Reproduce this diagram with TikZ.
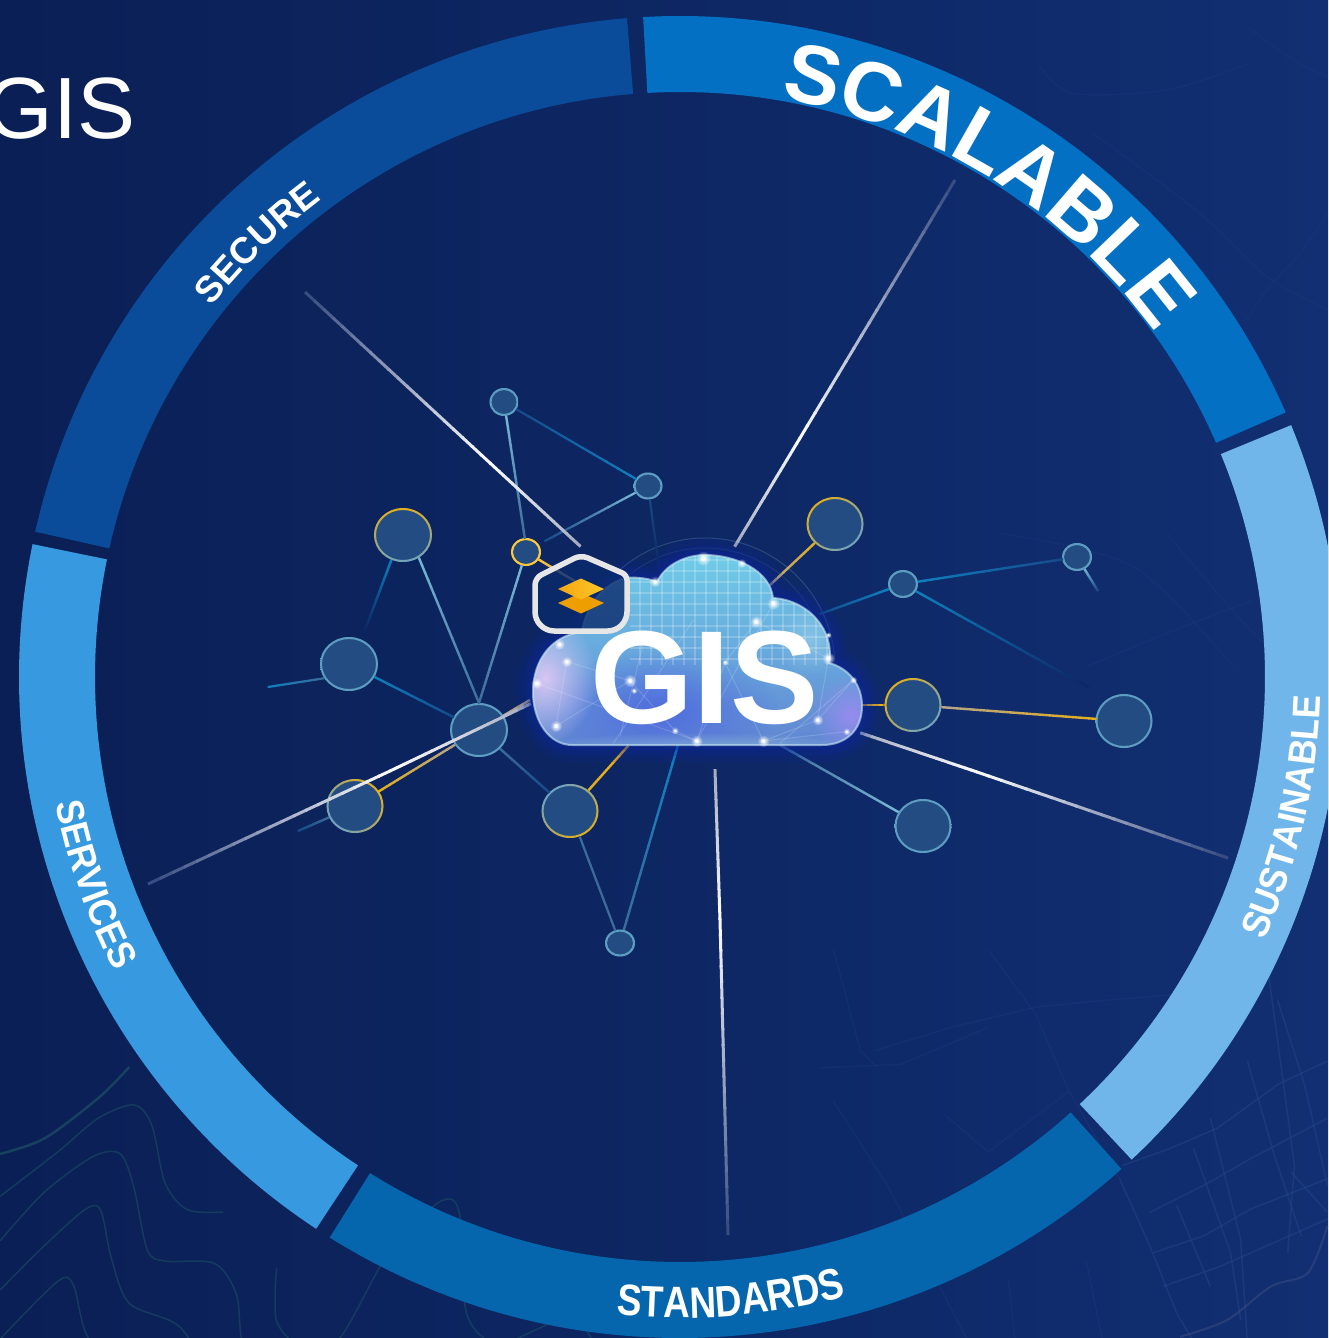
\documentclass[tikz,border=0pt]{standalone}
\usepackage{fontspec}
\usetikzlibrary{shapes.geometric,calc,decorations.text,fadings}
\setmainfont{Liberation Sans}
\newfontfamily\condA[FakeStretch=0.84]{Liberation Sans}
\newfontfamily\condB[FakeStretch=0.92]{Liberation Sans}
\def\fSCA{\bfseries\fontsize{47.5}{52}\selectfont}
\def\fSEC{\bfseries\fontsize{21}{25}\selectfont}
\def\fSER{\condB\bfseries\fontsize{22}{26}\selectfont}
\def\fSTA{\condA\bfseries\fontsize{25}{29}\selectfont}
\def\fSUS{\condB\bfseries\fontsize{22}{26}\selectfont}
\definecolor{bgL}{HTML}{0A1F55}
\definecolor{bgR}{HTML}{112F72}
\definecolor{bgc}{HTML}{0D2663}
\definecolor{secC}{HTML}{0A4C9A}
\definecolor{scaC}{HTML}{0470C4}
\definecolor{susC}{HTML}{70B6EA}
\definecolor{staC}{HTML}{0566AE}
\definecolor{serC}{HTML}{379AE0}
\definecolor{gold}{HTML}{E4AE1C}
\definecolor{yel}{HTML}{FFC83A}
\definecolor{tan}{HTML}{B5A58A}
\definecolor{gblue}{HTML}{6FA3C0}
\definecolor{nblue}{HTML}{5E9DC2}
\definecolor{lblue}{HTML}{78B8D6}
\definecolor{mblue}{HTML}{3C6C9A}
\definecolor{cyanb}{HTML}{0E80C0}
\definecolor{deep}{HTML}{164A88}
\definecolor{faint}{HTML}{34487E}
\definecolor{grayl}{HTML}{A4ABC0}
\definecolor{nfill}{HTML}{234D82}
\definecolor{street}{HTML}{23448A}
\definecolor{contour}{HTML}{1A4A62}
\tikzfading[name=softc, inner color=transparent!0, outer color=transparent!100]
\tikzset{
  hubnode/.style={ellipse,fill=nfill,inner sep=0pt,outer sep=0pt},
  mapline/.style={street,line width=0.03cm,opacity=.55,line join=round},
  topo/.style={contour,line width=0.03cm,opacity=.65}
}
% gradient line between two named points
\newcommand\fline[5]{%
  \foreach \i in {0,...,19}{%
    \pgfmathsetmacro\mixv{100-(\i+0.5)*5}%
    \pgfmathsetmacro\ta{\i/20}%
    \pgfmathsetmacro\tb{(\i+1.12)/20}%
    \draw[line width=#5*0.02cm,color={#3!\mixv!#4}] ($(#1)!\ta!(#2)$) -- ($(#1)!\tb!(#2)$);%
  }}
% connector trimmed at the node borders
\newcommand\conn[5]{%
  \path (#1) -- (#2) coordinate[pos=0] (cs) coordinate[pos=1] (ce);%
  \fline{cs}{ce}{#3}{#4}{#5}}
% node with a shaded rim
\newcommand\nd[8]{%
  \node[hubnode,minimum width={#4*0.04cm},minimum height={#5*0.04cm}] (#1) at (#2,#3) {};%
  \shade[top color=#6,bottom color=#7,shading angle=#8,even odd rule]
    (#2,#3) ellipse[x radius=#4,y radius=#5] (#2,#3) ellipse[x radius=#4-2,y radius=#5-2];}
\def\cloudpath{(572,745) -- (822,745)
  .. controls (846,745) and (862,730) .. (862,706)
  .. controls (862,684) and (848,668) .. (829,663)
  .. controls (835,630) and (808,600) .. (773,598)
  .. controls (770,570) and (735,555) .. (705,555)
  .. controls (685,555) and (665,565) .. (657,582)
  .. controls (648,578) and (635,577) .. (625,578)
  .. controls (600,585) and (585,610) .. (582,632)
  .. controls (552,635) and (533,660) .. (533,692)
  .. controls (533,722) and (550,745) .. (572,745) -- cycle}
\begin{document}
\begin{tikzpicture}[x=0.02cm,y=-0.02cm]
\useasboundingbox (0,0) rectangle (1328,1338);
\clip (0,0) rectangle (1328,1338);
% background
\shade[left color=bgL,right color=bgR] (0,0) rectangle (1328,1338);
% contour lines, lower left
\begin{scope}[shift={(0,1000)},x=0.00893cm,y=-0.00893cm]
\draw[topo,line width=0.05cm,opacity=.8] plot[smooth] coordinates {(0,345)(100,310)(220,220)(290,150)};
\draw[topo] plot[smooth] coordinates {(0,440)(130,340)(220,265)(300,235)(340,280)(370,410)(420,470)(500,475)};
\draw[topo] plot[smooth] coordinates {(0,540)(100,430)(210,350)(270,345)(300,420)(330,560)(370,585)(480,590)(530,660)(550,790)(650,860)(760,830)(850,780)};
\draw[topo] plot[smooth] coordinates {(0,650)(100,550)(190,470)(225,470)(250,580)(290,680)(400,730)(480,840)(620,925)(720,910)(840,810)};
\draw[topo] plot[smooth] coordinates {(0,760)(130,630)(165,640)(200,760)(310,830)(420,890)(560,990)(720,990)(830,935)(880,980)};
\draw[topo,line width=0.05cm] plot[smooth] coordinates {(0,890)(80,835)(130,880)(200,945)(320,960)(420,1010)};
\draw[topo] plot[smooth] coordinates {(620,600)(620,720)(680,780)(760,760)(880,550)(990,450)(1030,480)(1045,700)(1110,770)(1210,735)(1280,700)(1320,750)(1340,790)};
\end{scope}
% street lines, lower right
\begin{scope}[shift={(800,950)},x=0.00673cm,y=-0.00673cm]
\foreach \road in {
 {(950,680)(1040,880)(1120,1080)(1170,1164)},
 {(1220,500)(1310,860)(1330,1164)},
 {(1390,50)(1470,640)(1450,900)},
 {(1040,780)(1200,700)(1340,620)(1568,500)},
 {(1050,900)(1200,850)(1340,770)(1568,680)},
 {(960,640)(1100,590)(1240,530)(1420,400)(1568,330)},
 {(1080,1000)(1250,940)(1568,800)},
 {(1170,590)(1280,900)(1310,1100)},
 {(1330,330)(1410,610)(1490,850)},
 {(1420,150)(1500,400)(1568,700)},
 {(1120,760)(1220,1000)},
 {(1460,660)(1568,780)}}{
  \draw[mapline] plot coordinates \road;
}
\foreach \road in {
 {(700,190)(800,420)(950,680)},
 {(700,170)(900,150)(1150,130)},
 {(220,300)(450,230)(700,170)},
 {(100,0)(180,300)(230,350)},
 {(560,0)(700,190)},
 {(60,350)(300,340)(560,230)},
 {(430,490)(560,600)(800,420)},
 {(100,450)(260,700)(500,1164)},
 {(850,920)(900,1164)},
 {(620,980)(640,1164)}}{
  \draw[mapline,opacity=.22] plot coordinates \road;
}
\draw[topo,line width=0.04cm,color=faint] plot[smooth] coordinates {(1130,1150)(1270,1100)(1400,1000)(1510,960)(1568,820)};
\end{scope}
% street lines, upper right and middle
\begin{scope}[shift={(900,0)},x=0.00667cm,y=-0.00667cm]
\foreach \road in {
 {(1040,80)(1180,180)(1284,230)},
 {(580,400)(900,640)(1100,830)(1284,930)},
 {(1040,960)(1100,870)(1200,760)(1284,640)},
 {(420,200)(520,280)(800,270)(1050,190)},
 {(300,1600)(700,1700)(1000,2000)},
 {(800,1600)(1060,1900)(1284,2100)},
 {(560,2000)(800,1900)(1060,1800)}}{
  \draw[mapline,opacity=.18] plot[smooth] coordinates \road;
}
\end{scope}
% ring
\begin{scope}[shift={(680,677)},x=0.02cm,y=0.02cm]
\newcommand\ringseg[3]{\fill[#1] (#2:661) arc[start angle=#2,end angle=#3,radius=661] -- (#3:585) arc[start angle=#3,end angle=#2,radius=585] -- cycle;}
\ringseg{secC}{94.6}{167.3}
\ringseg{scaC}{23.6}{93.2}
\ringseg{susC}{-46.9}{22.4}
\ringseg{staC}{-122}{-48.1}
\ringseg{serC}{168.4}{236.6}
\path[decorate,decoration={text along path,text={|\fSCA|SCALABLE},text align=center,text color=white}]
  (100.5:587) arc[start angle=100.5,end angle=15.5,radius=587];
\path[decorate,decoration={text along path,text={|\fSEC|SECURE},text align=center,text color=white}]
  (170:597) arc[start angle=170,end angle=98.5,radius=597];
\path[decorate,decoration={text along path,text={|\fSER|SERVICES},text align=center,text color=white}]
  (165:637) arc[start angle=165,end angle=234,radius=637];
\path[decorate,decoration={text along path,text={|\fSTA|STANDARDS},text align=center,text color=white}]
  (240:641) arc[start angle=240,end angle=309.3,radius=641];
\path[decorate,decoration={text along path,text={|\fSUS|SUSTAINABLE},text align=center,text color=white}]
  (-50:641) arc[start angle=-50,end angle=24,radius=641];
\end{scope}
\node[anchor=base east,inner sep=0pt,text=white,font=\fontsize{49.5}{55}\selectfont] (title) at (136,139) {GIS};
% faint rings round the cloud (upper part only)
\begin{scope}
\clip (540,500) rectangle (880,690);
\draw[gblue,line width=0.02cm,opacity=.28] (705,668) circle[radius=130];
\draw[gblue,line width=0.02cm,opacity=.16] (705,668) circle[radius=120];
\end{scope}
% free ends
\coordinate (f1) at (365,630);
\coordinate (f2) at (268,687);
\coordinate (f3) at (298,831);
\coordinate (f4) at (545,541);
\coordinate (f5) at (660,575);
\coordinate (f6) at (1088,687);
\coordinate (f7) at (1098,591);
\coordinate (c1) at (530,700);
\coordinate (c2) at (628,746);
\coordinate (c3) at (678,745);
\coordinate (c4) at (770,585);
\coordinate (c5) at (820,614);
\coordinate (c6) at (862,705);
\coordinate (c7) at (780,745);
\coordinate (c8) at (578,583);
% nodes (created first so the connectors can refer to them)
\nd{n1}{403}{535}{29}{27}{gold}{gblue}{10}
\nd{n2}{349}{664}{29}{27}{nblue}{nblue}{0}
\nd{n3}{479}{730}{29}{27}{nblue}{nblue}{0}
\nd{n4}{355}{806}{28.5}{27}{gold}{gblue}{-50}
\nd{n5}{504}{402}{14.5}{14}{nblue}{nblue}{0}
\nd{n6}{526}{552}{15}{14}{yel}{yel}{0}
\nd{n7}{648}{486}{14.5}{13.5}{nblue}{nblue}{0}
\nd{n8}{570}{811}{28.5}{27}{gblue}{gold}{40}
\nd{n9}{620}{943}{15}{13.5}{nblue}{nblue}{0}
\nd{n10}{835}{524}{28.5}{27}{gold}{gblue}{45}
\nd{n11}{903}{584}{15}{14}{nblue}{nblue}{0}
\nd{n12}{1077}{557}{15}{14}{nblue}{nblue}{0}
\nd{n13}{913}{705}{28.5}{27}{gold}{gblue}{45}
\nd{n14}{1124}{721}{28.5}{27}{nblue}{nblue}{0}
\nd{n15}{923}{826}{28.5}{27}{nblue}{nblue}{0}
% connectors
\conn{n5}{n6.95}{lblue}{mblue}{2.4}
\conn{n5}{n7}{deep}{cyanb}{2.2}
\conn{n7}{f4}{lblue}{deep}{2.2}
\conn{n7}{f5}{deep}{bgc}{2.2}
\conn{n6}{n3.north}{lblue}{mblue}{2.4}
\conn{n1.-55}{n3.north}{lblue}{mblue}{2.4}
\conn{n1.-115}{f1}{cyanb}{bgc}{2.4}
\conn{n2}{n3}{cyanb}{deep}{2.4}
\conn{n2.210}{f2}{mblue}{cyanb}{2.2}
\conn{n3}{n4}{tan}{gold}{2.4}
\conn{n3}{c1}{tan}{tan}{2.4}
\conn{n3}{n8}{mblue}{deep}{2.4}
\conn{n4}{f3}{mblue}{deep}{2.4}
\conn{n8}{c2}{gold}{gold}{2.4}
\conn{n8}{n9}{mblue}{mblue}{2.2}
\conn{n9}{c3}{mblue}{cyanb}{2.4}
\conn{n6}{c8}{yel}{tan}{2.4}
\conn{n10}{c4}{gold}{tan}{2.4}
\conn{n11}{c5}{cyanb}{deep}{2.4}
\conn{n11}{n12}{cyanb}{deep}{2.4}
\conn{n11}{f6}{cyanb}{bgc}{2.4}
\conn{n12}{f7}{lblue}{deep}{2.4}
\conn{n13}{c6}{gold}{gold}{2.4}
\conn{n13}{n14}{tan}{gold}{2.4}
\conn{n15}{c7}{lblue}{mblue}{2.4}
% long white spokes
\coordinate (w1a) at (305,292); \coordinate (w1m) at (490,463); \coordinate (w1b) at (580,546);
\coordinate (w2a) at (955,180); \coordinate (w2m) at (800,438); \coordinate (w2b) at (735,546);
\coordinate (w3a) at (148,884); \coordinate (w3m) at (390,771); \coordinate (w3b) at (530,704);
\coordinate (w4a) at (1228,858); \coordinate (w4m) at (977,772); \coordinate (w4b) at (861,733);
\coordinate (w5a) at (728,1235); \coordinate (w5m) at (720,920); \coordinate (w5b) at (715,770);
\fline{w1a}{w1m}{faint}{white}{3}\fline{w1m}{w1b}{white}{grayl}{3}
\fline{w2a}{w2m}{faint}{white}{3}\fline{w2m}{w2b}{white}{grayl}{3}
\fline{w3a}{w3m}{faint}{white}{3}\fline{w3m}{w3b}{white}{grayl}{3}
\fline{w4a}{w4m}{faint}{white}{3}\fline{w4m}{w4b}{white}{grayl}{3}
\fline{w5a}{w5m}{faint}{white}{3}\fline{w5m}{w5b}{white}{grayl}{3}
% cloud
\draw[color={rgb,255:red,11;green,37;blue,168},opacity=.14,line width=0.68cm,line join=round] \cloudpath;
\draw[color={rgb,255:red,11;green,37;blue,168},opacity=.2,line width=0.42cm,line join=round] \cloudpath;
\draw[color={rgb,255:red,11;green,37;blue,168},opacity=.3,line width=0.2cm,line join=round] \cloudpath;
\begin{scope}
\clip \cloudpath;
\shade[top color={rgb,255:red,112;green,206;blue,232},middle color={rgb,255:red,48;green,146;blue,218},bottom color={rgb,255:red,96;green,132;blue,210}] (530,550) rectangle (865,750);
\fill[color={rgb,255:red,80;green,108;blue,222},path fading=softc] (660,710) ellipse[x radius=120,y radius=60];
\fill[color={rgb,255:red,216;green,198;blue,244},path fading=softc] (545,678) ellipse[x radius=52,y radius=66];
\fill[color={rgb,255:red,150;green,140;blue,238},path fading=softc] (852,715) ellipse[x radius=42,y radius=40];
\fill[color={rgb,255:red,160;green,206;blue,216},opacity=.65,path fading=softc] (700,752) ellipse[x radius=190,y radius=20];
\fill[color={rgb,255:red,170;green,220;blue,236},opacity=.45,path fading=softc] (810,640) ellipse[x radius=36,y radius=36];
% grid of the upper lobe
\foreach \gx in {640,651,...,830}{\draw[white,opacity=.2,line width=0.035cm] (\gx,555) -- (\gx,665);}
\foreach \gy in {560,571,...,665}{\draw[white,opacity=.2,line width=0.035cm] (630,\gy) -- (835,\gy);}
% web lines
\begin{scope}[shift={(480,520)},x=0.00667cm,y=-0.00667cm]
\foreach \ax/\ay/\bx/\by in {228/618/450/482,450/482/585/632,585/632/650/663,650/663/735/427,735/427/850/663,850/663/1013/600,1013/600/1045/415,1045/415/828/305,828/305/735/427,260/425/228/618,260/425/450/482,1120/480/1013/600,1100/635/850/663,650/663/880/250,400/670/640/300,900/670/1120/480,170/490/650/663,500/330/420/650}{
  \draw[white,opacity=.16,line width=0.02cm] (\ax,\ay) -- (\bx,\by);
}
\end{scope}
\end{scope}
\draw[color={rgb,255:red,200;green,232;blue,242},opacity=.6,line width=0.04cm] \cloudpath;
% cloud dots
\begin{scope}[shift={(480,520)},x=0.00667cm,y=-0.00667cm]
\foreach \dx/\dy/\dr in {670/115/16,785/130/10,525/185/12,880/250/14,828/305/14,1045/415/14,1120/480/8,1013/600/12,1100/635/8,850/663/13,650/663/13,228/618/13,170/490/12,260/425/12,238/373/12,450/482/14,462/512/7,585/632/8,735/427/7,1045/345/7}{
  \fill[white,path fading=softc] (\dx,\dy) circle[radius=\dr*1.4];
  \fill[white,opacity=.7] (\dx,\dy) circle[radius=\dr*0.5];
}
\end{scope}
% badge
\fill[color={rgb,255:red,10;green,42;blue,108},opacity=.8,rounded corners=3pt] (581,555) -- (627,575) [rounded corners=11pt] -- (627,631) -- (535,631) [rounded corners=4pt] -- (535,578) -- cycle;
\draw[color={rgb,255:red,230;green,230;blue,230},line width=0.11cm,line join=round,rounded corners=3pt] (581,555) -- (627,575) [rounded corners=11pt] -- (627,631) -- (535,631) [rounded corners=4pt] -- (535,578) -- cycle;
\fill[color={rgb,255:red,238;green,158;blue,0}] (558,603) -- (581,593) -- (604,603) -- (581,613.5) -- cycle;
\shade[left color={rgb,255:red,245;green,165;blue,16},right color={rgb,255:red,255;green,200;blue,40}] (558,589) -- (581,578.5) -- (604,589) -- (581,599.5) -- cycle;
% main label
\node[anchor=base,inner sep=0pt,text=white,font=\bfseries\fontsize{75.4}{80}\selectfont] (gis) at (704.5,723) {GIS};
\end{tikzpicture}
\end{document}
